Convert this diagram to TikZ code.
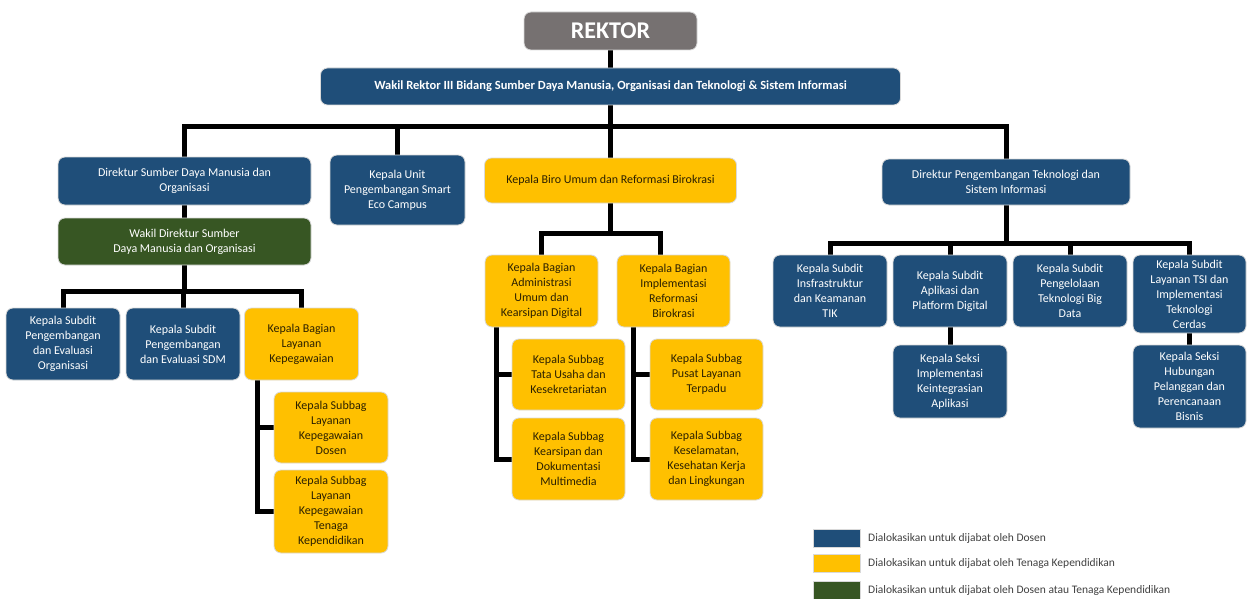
\documentclass[tikz,border=0pt]{standalone}
\usepackage{fontspec}
\setmainfont{Carlito}
\usetikzlibrary{backgrounds,calc}
\definecolor{dblue}{HTML}{1F4E79}
\definecolor{myellow}{HTML}{FFC000}
\definecolor{dgreen}{HTML}{375623}
\definecolor{rgrey}{HTML}{767171}
\definecolor{ytext}{HTML}{2B2000}
\definecolor{legtext}{HTML}{404040}
\tikzset{
  box/.style={rounded corners=7pt, align=center, inner sep=1pt, draw=black!15, line width=0.8pt,
    font=\fontsize{12}{15}\selectfont},
  sz/.style 2 args={minimum width=#1pt, minimum height=#2pt},
  bluebox/.style={box, fill=dblue, text=white},
  yelbox/.style={box, fill=myellow, text=ytext},
  greenbox/.style={box, fill=dgreen, text=white},
  conn/.style={line width=5pt, black},
  legsq/.style={draw=black!15, line width=0.5pt, minimum width=47pt, minimum height=18pt, inner sep=0pt},
  legtxt/.style={anchor=west, inner sep=0pt, text=legtext, font=\fontsize{11.5}{13}\selectfont},
}
\begin{document}
\begin{tikzpicture}[x=1pt,y=-1pt]
\useasboundingbox (0,0) rectangle (1247,599);
% top
\node[box, fill=rgrey, text=white, sz={173}{38}, font=\fontsize{24}{26}\selectfont\bfseries] (rektor) at (610.5,31) {REKTOR};
\node[bluebox, sz={580}{37}, font=\fontsize{12.5}{15}\selectfont\bfseries] (wr) at (610.5,86.5) {Wakil Rektor III Bidang Sumber Daya Manusia, Organisasi dan Teknologi \& Sistem Informasi};
% level 2
\node[bluebox, sz={253}{48}] (dsdm) at (184.5,181) {Direktur Sumber Daya Manusia dan\\Organisasi};
\node[bluebox, sz={135}{70}] (unit) at (397.5,190) {Kepala Unit\\Pengembangan Smart\\Eco Campus};
\node[yelbox, sz={252}{45}] (biro) at (610.5,180.5) {Kepala Biro Umum dan Reformasi Birokrasi};
\node[bluebox, sz={248}{46}] (dtsi) at (1006,182) {Direktur Pengembangan Teknologi dan\\Sistem Informasi};
% SDM branch
\node[greenbox, sz={253}{47}] (wdsdm) at (184.5,241.5) {Wakil Direktur Sumber\\Daya Manusia dan Organisasi};
\node[bluebox, sz={114}{72}] (s1) at (63,344) {Kepala Subdit\\Pengembangan\\dan Evaluasi\\Organisasi};
\node[bluebox, sz={114}{72}] (s2) at (183,344) {Kepala Subdit\\Pengembangan\\dan Evaluasi SDM};
\node[yelbox, sz={114}{72}] (kbl) at (301.5,344) {Kepala Bagian\\Layanan\\Kepegawaian};
\node[yelbox, sz={114}{71}] (ld) at (331,427.5) {Kepala Subbag\\Layanan\\Kepegawaian\\Dosen};
\node[yelbox, sz={114}{83}] (ltk) at (331,511.5) {Kepala Subbag\\Layanan\\Kepegawaian\\Tenaga\\Kependidikan};
% Biro branch
\node[yelbox, sz={113}{72}] (ka) at (541.5,291) {Kepala Bagian\\Administrasi\\Umum dan\\Kearsipan Digital};
\node[yelbox, sz={113}{72}] (ki) at (673.5,291) {Kepala Bagian\\Implementasi\\Reformasi\\Birokrasi};
\node[yelbox, sz={113}{71}] (tu) at (568.5,374.5) {Kepala Subbag\\Tata Usaha dan\\Kesekretariatan};
\node[yelbox, sz={113}{82}] (kd) at (568.5,459) {Kepala Subbag\\Kearsipan dan\\Dokumentasi\\Multimedia};
\node[yelbox, sz={113}{71}] (pl) at (706.5,374.5) {Kepala Subbag\\Pusat Layanan\\Terpadu};
\node[yelbox, sz={113}{82}] (kk) at (706.5,459) {Kepala Subbag\\Keselamatan,\\Kesehatan Kerja\\dan Lingkungan};
% TSI branch
\node[bluebox, sz={114}{72}] (t1) at (830,291) {Kepala Subdit\\Insfrastruktur\\dan Keamanan\\TIK};
\node[bluebox, sz={114}{72}] (t2) at (950,291) {Kepala Subdit\\Aplikasi dan\\Platform Digital};
\node[bluebox, sz={114}{72}] (t3) at (1070,291) {Kepala Subdit\\Pengelolaan\\Teknologi Big\\Data};
\node[bluebox, sz={113}{78}] (t4) at (1189.5,294) {Kepala Subdit\\Layanan TSI dan\\Implementasi\\Teknologi\\Cerdas};
\node[bluebox, sz={114}{73}] (s5) at (950,381.5) {Kepala Seksi\\Implementasi\\Keintegrasian\\Aplikasi};
\node[bluebox, sz={113}{83}] (s6) at (1189.5,386.5) {Kepala Seksi\\Hubungan\\Pelanggan dan\\Perencanaan\\Bisnis};
% legend
\node[legsq, fill=dblue] (lg1) at (836.5,538) {};
\node[legsq, fill=myellow] (lg2) at (836.5,563) {};
\node[legsq, fill=dgreen] (lg3) at (836.5,590) {};
\node[legtxt] (lt1) at (868,538) {Dialokasikan untuk dijabat oleh Dosen};
\node[legtxt] (lt2) at (868,563) {Dialokasikan untuk dijabat oleh Tenaga Kependidikan};
\node[legtxt] (lt3) at (868,590) {Dialokasikan untuk dijabat oleh Dosen atau Tenaga Kependidikan};
% connectors
\begin{pgfonlayer}{background}
\coordinate (mb) at (610.5,127);
\draw[conn] (rektor) -- (wr);
\draw[conn] (wr) -- (biro);
\draw[conn] (dsdm.north) |- (mb) -| (dtsi.north);
\draw[conn] (unit.north) -- (unit.north |- mb);
\draw[conn] (dsdm) -- (wdsdm);
\coordinate (wb) at (184.5,291);
\draw[conn] (wdsdm.south) -- (wb);
\draw[conn] (s1.north) |- (wb) -| (kbl.north);
\draw[conn] (s2.north) -- (s2.north |- wb);
\coordinate (kv) at ($(kbl.south west)+(13,0)$);
\draw[conn] (kv) |- (ltk.west);
\draw[conn] (kv |- ld.west) -- (ld.west);
\coordinate (bb) at (610.5,233);
\draw[conn] (biro) -- (bb);
\coordinate (kit) at ($(ki.north)+(-13,0)$);
\draw[conn] (ka.north) |- (bb) -| (kit);
\coordinate (kav) at ($(ka.south west)+(12,0)$);
\draw[conn] (kav) |- (kd.west);
\draw[conn] (kav |- tu.west) -- (tu.west);
\coordinate (kiv) at ($(ki.south west)+(17,0)$);
\draw[conn] (kiv) |- (kk.west);
\draw[conn] (kiv |- pl.west) -- (pl.west);
\coordinate (db) at (1006,243);
\draw[conn] (dtsi) -- (db);
\draw[conn] (t1.north) |- (db) -| (t4.north);
\draw[conn] (t2.north) -- (t2.north |- db);
\draw[conn] (t3.north) -- (t3.north |- db);
\draw[conn] (t2) -- (s5);
\draw[conn] (t4) -- (s6);
\end{pgfonlayer}
\end{tikzpicture}
\end{document}
